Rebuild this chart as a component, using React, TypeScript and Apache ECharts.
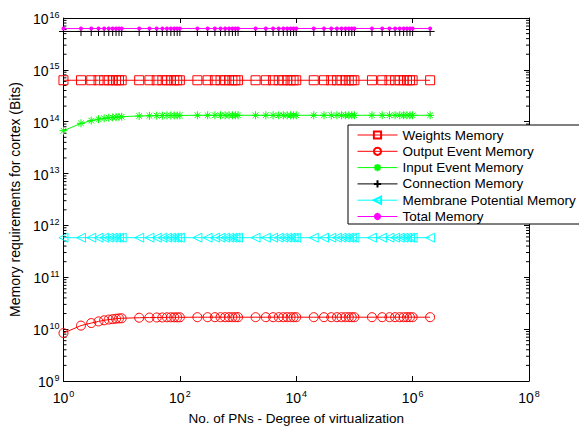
import React, { useEffect, useRef } from "react";
import * as echarts from "echarts";

const xValues = [
  1, 2, 3, 4, 5, 6, 7, 8, 9, 10,
  20, 30, 40, 50, 60, 70, 80, 90, 100,
  200, 300, 400, 500, 600, 700, 800, 900, 1000,
  2000, 3000, 4000, 5000, 6000, 7000, 8000, 9000, 10000,
  20000, 30000, 40000, 50000, 60000, 70000, 80000, 90000, 100000,
  200000, 300000, 400000, 500000, 600000, 700000, 800000, 900000, 1000000,
  2000000,
];

const weightsMemory = [
  6.3e14, 6.3e14, 6.3e14, 6.3e14, 6.3e14, 6.3e14, 6.3e14, 6.3e14, 6.3e14, 6.3e14,
  6.3e14, 6.3e14, 6.3e14, 6.3e14, 6.3e14, 6.3e14, 6.3e14, 6.3e14, 6.3e14,
  6.3e14, 6.3e14, 6.3e14, 6.3e14, 6.3e14, 6.3e14, 6.3e14, 6.3e14, 6.3e14,
  6.3e14, 6.3e14, 6.3e14, 6.3e14, 6.3e14, 6.3e14, 6.3e14, 6.3e14, 6.3e14,
  6.3e14, 6.3e14, 6.3e14, 6.3e14, 6.3e14, 6.3e14, 6.3e14, 6.3e14, 6.3e14,
  6.3e14, 6.3e14, 6.3e14, 6.3e14, 6.3e14, 6.3e14, 6.3e14, 6.3e14, 6.3e14,
  6.3e14,
];

const outputEventMemory = [
  8.4e9, 1.17e10, 1.31e10, 1.41e10, 1.48e10, 1.53e10, 1.56e10, 1.59e10, 1.61e10, 1.62e10,
  1.66e10, 1.67e10, 1.68e10, 1.68e10, 1.69e10, 1.69e10, 1.69e10, 1.69e10, 1.69e10,
  1.7e10, 1.7e10, 1.7e10, 1.7e10, 1.7e10, 1.7e10, 1.7e10, 1.7e10, 1.7e10,
  1.7e10, 1.7e10, 1.7e10, 1.7e10, 1.7e10, 1.7e10, 1.7e10, 1.7e10, 1.7e10,
  1.7e10, 1.7e10, 1.7e10, 1.7e10, 1.7e10, 1.7e10, 1.7e10, 1.7e10, 1.7e10,
  1.7e10, 1.7e10, 1.7e10, 1.7e10, 1.7e10, 1.7e10, 1.7e10, 1.7e10, 1.7e10,
  1.7e10,
];

const inputEventMemory = [
  6.7e13, 9.3e13, 1.05e14, 1.12e14, 1.16e14, 1.19e14, 1.21e14, 1.23e14, 1.24e14, 1.25e14,
  1.29e14, 1.3e14, 1.31e14, 1.31e14, 1.32e14, 1.32e14, 1.32e14, 1.32e14, 1.32e14,
  1.33e14, 1.33e14, 1.33e14, 1.33e14, 1.33e14, 1.33e14, 1.33e14, 1.33e14, 1.33e14,
  1.33e14, 1.33e14, 1.33e14, 1.33e14, 1.33e14, 1.33e14, 1.33e14, 1.33e14, 1.33e14,
  1.33e14, 1.33e14, 1.33e14, 1.33e14, 1.33e14, 1.33e14, 1.33e14, 1.33e14, 1.33e14,
  1.33e14, 1.33e14, 1.33e14, 1.33e14, 1.33e14, 1.33e14, 1.33e14, 1.33e14, 1.33e14,
  1.33e14,
];

const connectionMemory = [
  5.5e15, 5.5e15, 5.5e15, 5.5e15, 5.5e15, 5.5e15, 5.5e15, 5.5e15, 5.5e15, 5.5e15,
  5.5e15, 5.5e15, 5.5e15, 5.5e15, 5.5e15, 5.5e15, 5.5e15, 5.5e15, 5.5e15,
  5.5e15, 5.5e15, 5.5e15, 5.5e15, 5.5e15, 5.5e15, 5.5e15, 5.5e15, 5.5e15,
  5.5e15, 5.5e15, 5.5e15, 5.5e15, 5.5e15, 5.5e15, 5.5e15, 5.5e15, 5.5e15,
  5.5e15, 5.5e15, 5.5e15, 5.5e15, 5.5e15, 5.5e15, 5.5e15, 5.5e15, 5.5e15,
  5.5e15, 5.5e15, 5.5e15, 5.5e15, 5.5e15, 5.5e15, 5.5e15, 5.5e15, 5.5e15,
  5.5e15,
];

const membranePotentialMemory = [
  5.8e11, 5.8e11, 5.8e11, 5.8e11, 5.8e11, 5.8e11, 5.8e11, 5.8e11, 5.8e11, 5.8e11,
  5.8e11, 5.8e11, 5.8e11, 5.8e11, 5.8e11, 5.8e11, 5.8e11, 5.8e11, 5.8e11,
  5.8e11, 5.8e11, 5.8e11, 5.8e11, 5.8e11, 5.8e11, 5.8e11, 5.8e11, 5.8e11,
  5.8e11, 5.8e11, 5.8e11, 5.8e11, 5.8e11, 5.8e11, 5.8e11, 5.8e11, 5.8e11,
  5.8e11, 5.8e11, 5.8e11, 5.8e11, 5.8e11, 5.8e11, 5.8e11, 5.8e11, 5.8e11,
  5.8e11, 5.8e11, 5.8e11, 5.8e11, 5.8e11, 5.8e11, 5.8e11, 5.8e11, 5.8e11,
  5.8e11,
];

const totalMemory = [
  6.25e15, 6.26e15, 6.27e15, 6.27e15, 6.28e15, 6.28e15, 6.28e15, 6.28e15, 6.28e15, 6.28e15,
  6.28e15, 6.28e15, 6.28e15, 6.28e15, 6.28e15, 6.28e15, 6.28e15, 6.28e15, 6.28e15,
  6.28e15, 6.28e15, 6.28e15, 6.28e15, 6.28e15, 6.28e15, 6.28e15, 6.28e15, 6.28e15,
  6.28e15, 6.28e15, 6.28e15, 6.28e15, 6.28e15, 6.28e15, 6.28e15, 6.28e15, 6.28e15,
  6.28e15, 6.28e15, 6.28e15, 6.28e15, 6.28e15, 6.28e15, 6.28e15, 6.28e15, 6.28e15,
  6.28e15, 6.28e15, 6.28e15, 6.28e15, 6.28e15, 6.28e15, 6.28e15, 6.28e15, 6.28e15,
  6.28e15,
];

const seriesNames = [
  "Weights Memory",
  "Output Event Memory",
  "Input Event Memory",
  "Connection Memory",
  "Membrane Potential Memory",
  "Total Memory",
];

const xTickExponents = [0, 2, 4, 6, 8];
const yTickExponents = [9, 10, 11, 12, 13, 14, 15, 16];
const minorMultipliers = [2, 3, 4, 5, 6, 7, 8, 9];

const FONT = "'Liberation Sans', Arial, Helvetica, sans-serif";

const PLUS = "path://M5,0L5,10M0,5L10,5";
const STAR = "path://M5,0L5,10M0,5L10,5M1.5,1.5L8.5,8.5M1.5,8.5L8.5,1.5";
const TRI_LEFT = "path://M0,5L10,0L10,10Z";
const SQUARE = "path://M0,0L10,0L10,10L0,10Z";

function pairs(vals: number[]) {
  return xValues.map((x, i) => [x, vals[i]]);
}

export default function App() {
  const ref = useRef<HTMLDivElement>(null);
  useEffect(() => {
    if (!ref.current) return;
    const chart = echarts.init(ref.current, undefined, { renderer: "svg" });

    const minorTickValues: number[][] = [];
    for (let e = yTickExponents[0]; e < yTickExponents[yTickExponents.length - 1]; e++) {
      for (const m of minorMultipliers) minorTickValues.push([1, m * Math.pow(10, e)]);
    }

    const rich = {
      b: { fontSize: 14, fontFamily: FONT, color: "#000", lineHeight: 16, verticalAlign: "bottom" },
      s: { fontSize: 9, fontFamily: FONT, color: "#000", lineHeight: 16, verticalAlign: "top", padding: [0, 0, 0, 1] },
    };
    const fmt = (v: number) => `{b|10}{s|${Math.round(Math.log10(v))}}`;

    const mkLine = (
      name: string,
      vals: number[],
      color: string,
      symbol: string,
      size: number,
      filled: boolean
    ) => ({
      name,
      type: "line",
      data: pairs(vals),
      symbol,
      symbolSize: size,
      showSymbol: true,
      lineStyle: { color, width: 1 },
      itemStyle: filled
        ? { color, borderColor: color, borderWidth: 0 }
        : { color: "none", borderColor: color, borderWidth: 1 },
      emphasis: { disabled: true },
      z: 3,
    });

    const option: any = {
      animation: false,
      backgroundColor: "#fff",
      textStyle: { fontFamily: FONT },
      grid: { left: 63, top: 18, width: 466, height: 366, containLabel: false },
      xAxis: [
        {
          type: "log",
          logBase: 10,
          min: Math.pow(10, xTickExponents[0]),
          max: Math.pow(10, xTickExponents[xTickExponents.length - 1]),
          interval: 2,
          splitNumber: 4,
          position: "bottom",
          name: "No. of PNs - Degree of virtualization",
          nameLocation: "middle",
          nameGap: 30,
          nameTextStyle: { fontSize: 13.5, color: "#000", fontFamily: FONT },
          axisLine: { show: true, lineStyle: { color: "#000", width: 1 } },
          axisTick: { show: true, inside: true, length: 5, lineStyle: { color: "#000" } },
          axisLabel: { show: true, margin: 8, formatter: fmt, rich },
          splitLine: { show: false },
          minorTick: { show: false },
        },
        {
          type: "log",
          logBase: 10,
          min: Math.pow(10, xTickExponents[0]),
          max: Math.pow(10, xTickExponents[xTickExponents.length - 1]),
          interval: 2,
          splitNumber: 4,
          position: "top",
          axisLine: { show: true, lineStyle: { color: "#000", width: 1 } },
          axisTick: { show: true, inside: true, length: 5, lineStyle: { color: "#000" } },
          axisLabel: { show: false },
          splitLine: { show: false },
        },
      ],
      yAxis: [
        {
          type: "log",
          logBase: 10,
          min: Math.pow(10, yTickExponents[0]),
          max: Math.pow(10, yTickExponents[yTickExponents.length - 1]),
          interval: 1,
          splitNumber: 7,
          position: "left",
          name: "Memory requirements for cortex (Bits)",
          nameLocation: "middle",
          nameGap: 38,
          nameTextStyle: { fontSize: 14, color: "#000", fontFamily: FONT },
          axisLine: { show: true, lineStyle: { color: "#000", width: 1 } },
          axisTick: { show: true, inside: true, length: 5, lineStyle: { color: "#000" } },
          axisLabel: { show: true, margin: 4, formatter: fmt, rich },
          splitLine: { show: false },
        },
        {
          type: "log",
          logBase: 10,
          min: Math.pow(10, yTickExponents[0]),
          max: Math.pow(10, yTickExponents[yTickExponents.length - 1]),
          interval: 1,
          splitNumber: 7,
          position: "right",
          axisLine: { show: true, lineStyle: { color: "#000", width: 1 } },
          axisTick: { show: true, inside: true, length: 5, lineStyle: { color: "#000" } },
          axisLabel: { show: false },
          splitLine: { show: false },
        },
      ],
      legend: {
        data: seriesNames,
        orient: "vertical",
        left: 357,
        top: 127,
        itemWidth: 40,
        itemHeight: 9,
        itemGap: 0.3,
        padding: 0,
        lineStyle: { width: 1 },
        textStyle: { fontSize: 13.5, color: "#000", fontFamily: FONT, lineHeight: 16 },
        selectedMode: false,
        z: 10,
      },
      graphic: [
        {
          type: "rect",
          z: 9,
          shape: { x: 348, y: 125, width: 245, height: 99 },
          style: { fill: "#fff", stroke: "#000", lineWidth: 1 },
        },
      ],
      series: [
        mkLine(seriesNames[0], weightsMemory, "#ff0000", SQUARE, 9, false),
        mkLine(seriesNames[1], outputEventMemory, "#ff0000", "circle", 9, false),
        mkLine(seriesNames[2], inputEventMemory, "#00ff00", STAR, 8, false),
        mkLine(seriesNames[3], connectionMemory, "#000000", PLUS, 9, false),
        mkLine(seriesNames[4], membranePotentialMemory, "#00ffff", TRI_LEFT, 9, false),
        mkLine(seriesNames[5], totalMemory, "#ff00ff", "circle", 4, true),
        {
          type: "custom",
          name: "minorTicks",
          data: minorTickValues,
          silent: true,
          z: 2,
          renderItem: (_p: any, api: any) => {
            const v = api.value(1);
            const l = api.coord([Math.pow(10, xTickExponents[0]), v]);
            const r = api.coord([Math.pow(10, xTickExponents[xTickExponents.length - 1]), v]);
            return {
              type: "group",
              children: [
                { type: "line", shape: { x1: l[0], y1: l[1], x2: l[0] + 3, y2: l[1] }, style: { stroke: "#000", lineWidth: 1 } },
                { type: "line", shape: { x1: r[0], y1: r[1], x2: r[0] - 3, y2: r[1] }, style: { stroke: "#000", lineWidth: 1 } },
              ],
            };
          },
        },
      ],
    };
    chart.setOption(option);
    return () => chart.dispose();
  }, []);
  return (
    <div
      ref={ref}
      style={{ position: "absolute", left: 0, top: 0, width: 579, height: 430 }}
    />
  );
}
